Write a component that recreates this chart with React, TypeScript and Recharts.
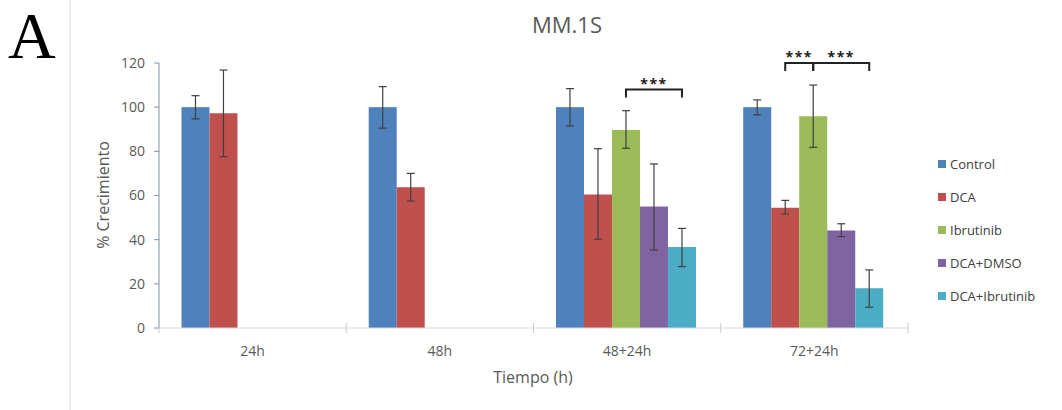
import { BarChart, Bar, XAxis, YAxis, ErrorBar } from 'recharts'

const categories = ['24h', '48h', '48+24h', '72+24h']
const seriesNames = ['Control', 'DCA', 'Ibrutinib', 'DCA+DMSO', 'DCA+Ibrutinib']
const seriesColors = ['#4f81bd', '#c0504d', '#9bbb59', '#8064a2', '#4bacc6']

const controlValues = [100, 100, 100, 100]
const controlLow = [94.7, 90.5, 91.5, 96.5]
const controlHigh = [105.2, 109.3, 108.4, 103.3]

const dcaValues = [97.2, 63.7, 60.5, 54.4]
const dcaLow = [77.6, 57.5, 40.2, 51.6]
const dcaHigh = [116.8, 70, 81.2, 57.8]

const ibrutinibValues = [null, null, 89.7, 95.9]
const ibrutinibLow = [null, null, 81.4, 81.8]
const ibrutinibHigh = [null, null, 98.4, 110]

const dmsoValues = [null, null, 55, 44.1]
const dmsoLow = [null, null, 35.3, 41.4]
const dmsoHigh = [null, null, 74.3, 47.2]

const comboValues = [null, null, 36.7, 18]
const comboLow = [null, null, 27.8, 9.4]
const comboHigh = [null, null, 45.1, 26.3]

const yTicks = [0, 20, 40, 60, 80, 100, 120]

// significance brackets: category index, from bar slot, to bar slot, height
const bracketCategory = [2, 3, 3]
const bracketFrom = [2, 1, 2]
const bracketTo = [4, 2, 4]
const bracketLevel = [108, 120, 120]
const bracketText = ['***', '***', '***']

const seriesValues = [controlValues, dcaValues, ibrutinibValues, dmsoValues, comboValues]
const seriesLow = [controlLow, dcaLow, ibrutinibLow, dmsoLow, comboLow]
const seriesHigh = [controlHigh, dcaHigh, ibrutinibHigh, dmsoHigh, comboHigh]

const data = categories.map((category, i) => {
  const row: Record<string, any> = { category }
  seriesNames.forEach((name, s) => {
    const v = seriesValues[s][i]
    row[name] = v
    row[name + '_err'] =
      v == null ? null : [v - (seriesLow[s][i] as number), (seriesHigh[s][i] as number) - v]
  })
  return row
})

const W = 1062
const H = 410
const PLOT_LEFT = 159
const PLOT_RIGHT = 908
const PLOT_TOP = 63
const PLOT_BOTTOM = 328
const BAND = (PLOT_RIGHT - PLOT_LEFT) / categories.length
const FONT = '"Open Sans", sans-serif'
const TEXT = '#595959'

function ControlShape(props: any) {
  const { x, y, width, height, fill } = props
  let index = props.index
  if (index == null && props.payload) index = categories.indexOf(props.payload.category)
  const base = y + height
  const unit = height / controlValues[index]
  const marks: any[] = []
  bracketCategory.forEach((c, b) => {
    if (c !== index) return
    const x1 = x + width * (bracketFrom[b] + 0.5)
    const x2 = x + width * (bracketTo[b] + 0.5)
    const ly = base - bracketLevel[b] * unit
    marks.push(
      <g key={b}>
        <path
          d={`M${x1},${ly + 8} L${x1},${ly} L${x2},${ly} L${x2},${ly + 8}`}
          fill="none"
          stroke="#222"
          strokeWidth={2}
        />
        <text
          x={(x1 + x2) / 2}
          y={ly - 1}
          textAnchor="middle"
          fontSize={14}
          fontWeight="bold"
          letterSpacing={1.5}
          fill="#222"
          fontFamily={FONT}
        >
          {bracketText[b]}
        </text>
      </g>
    )
  })
  return (
    <g>
      <rect x={x} y={y} width={width} height={height} fill={fill} />
      {marks}
    </g>
  )
}

function XTick(props: any) {
  const { x, payload, index } = props
  const i = index ?? categories.indexOf(payload.value)
  const left = PLOT_LEFT + BAND * i
  return (
    <g>
      <line x1={left} y1={PLOT_BOTTOM - 5} x2={left} y2={PLOT_BOTTOM + 5} stroke="#c8c8c8" />
      {i === categories.length - 1 && (
        <line
          x1={left + BAND}
          y1={PLOT_BOTTOM - 5}
          x2={left + BAND}
          y2={PLOT_BOTTOM + 5}
          stroke="#c8c8c8"
        />
      )}
      <text
        x={x}
        y={PLOT_BOTTOM + 28}
        textAnchor="middle"
        fontSize={14}
        fill={TEXT}
        fontFamily={FONT}
      >
        {payload.value}
      </text>
    </g>
  )
}

function LegendList() {
  return (
    <div
      style={{
        position: 'absolute',
        left: 938,
        top: 147,
        fontFamily: FONT,
        fontSize: 13,
        color: '#404040',
      }}
    >
      {seriesNames.map((name, i) => (
        <div
          key={name}
          style={{ display: 'flex', alignItems: 'center', height: 33, whiteSpace: 'nowrap' }}
        >
          <span
            style={{
              width: 8,
              height: 8,
              background: seriesColors[i],
              marginRight: 4,
              display: 'inline-block',
            }}
          />
          {name}
        </div>
      ))}
    </div>
  )
}

export default function App() {
  return (
    <div
      style={{
        position: 'absolute',
        left: 0,
        top: 0,
        width: W,
        height: H,
        background: '#fff',
        overflow: 'hidden',
      }}
    >
      <BarChart
        width={W}
        height={H}
        data={data}
        margin={{ top: PLOT_TOP, right: W - PLOT_RIGHT, bottom: 32, left: PLOT_LEFT - 60 }}
        barCategoryGap="12%"
        barGap={0}
      >
        <XAxis
          dataKey="category"
          height={H - PLOT_BOTTOM - 32}
          stroke="#d9d9d9"
          tickLine={false}
          tick={<XTick />}
          interval={0}
        />
        <YAxis
          width={60}
          domain={[0, 120]}
          ticks={yTicks}
          stroke="#7d93a8"
          tickSize={5}
          tickMargin={9}
          tick={{ fill: TEXT, fontSize: 14, fontFamily: FONT }}
          interval={0}
        />
        {seriesNames.map((name, s) => (
          <Bar
            key={name}
            dataKey={name}
            fill={seriesColors[s]}
            isAnimationActive={false}
            shape={s === 0 ? <ControlShape /> : undefined}
          >
            <ErrorBar
              dataKey={name + '_err'}
              width={4}
              stroke="#404040"
              strokeWidth={1.2}
              direction="y"
            />
          </Bar>
        ))}
      </BarChart>
      <LegendList />
      <svg
        width={W}
        height={H}
        style={{ position: 'absolute', left: 0, top: 0, pointerEvents: 'none' }}
      >
        <line x1={70} y1={0} x2={70} y2={H} stroke="#dcdcdc" />
        <text x={8} y={58} fontSize={66} fontFamily='"Liberation Serif", serif' fill="#000">
          A
        </text>
        <text
          x={567}
          y={33}
          textAnchor="middle"
          fontSize={22}
          fill={TEXT}
          fontFamily={FONT}
        >
          MM.1S
        </text>
        <text
          x={109}
          y={195}
          textAnchor="middle"
          fontSize={16}
          fill={TEXT}
          fontFamily={FONT}
          transform="rotate(-90 109 195)"
        >
          % Crecimiento
        </text>
        <text
          x={533}
          y={383}
          textAnchor="middle"
          fontSize={16}
          fill={TEXT}
          fontFamily={FONT}
        >
          Tiempo (h)
        </text>
      </svg>
    </div>
  )
}
